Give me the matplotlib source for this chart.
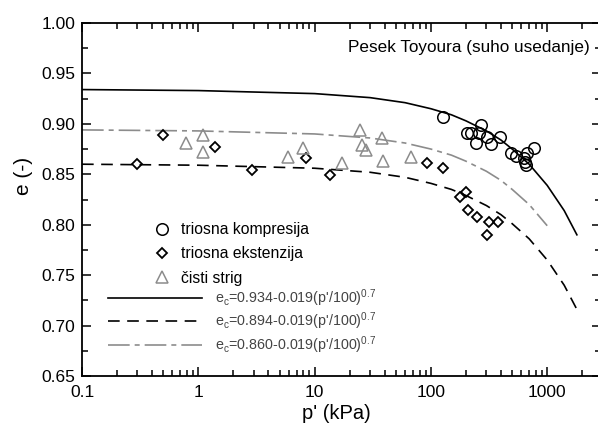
import matplotlib
matplotlib.use('Agg')
import matplotlib.pyplot as plt
from matplotlib.ticker import LogLocator, FuncFormatter, MultipleLocator

plt.rcParams['font.family'] = ['Liberation Sans', 'DejaVu Sans']
plt.rcParams['mathtext.fontset'] = 'custom'
plt.rcParams['mathtext.rm'] = 'Liberation Sans'

# --- data ---
# triosna kompresija (circles)
comp_p = [128, 271, 206, 223, 261, 305, 395, 246, 331, 491, 542, 635, 773, 673, 647, 660]
comp_e = [0.907, 0.899, 0.891, 0.891, 0.891, 0.887, 0.887, 0.881, 0.880, 0.871, 0.868,
          0.866, 0.876, 0.871, 0.862, 0.859]

# triosna ekstenzija (diamonds)
ext_p = [0.30, 0.50, 1.39, 2.9, 8.4, 13.5, 93, 126, 179, 202, 210, 251, 318, 380, 306]
ext_e = [0.860, 0.889, 0.877, 0.854, 0.866, 0.849, 0.861, 0.856, 0.827, 0.832, 0.815,
         0.808, 0.803, 0.803, 0.790]

# cisti strig (triangles)
shear_p = [0.78, 1.09, 1.09, 5.9, 7.9, 17.1, 24.8, 25.8, 27.9, 38.3, 39.1, 68]
shear_e = [0.881, 0.889, 0.872, 0.867, 0.876, 0.861, 0.894, 0.879, 0.874, 0.886, 0.863, 0.867]

# fitted curves (values of the drawn lines)
curve_p = [0.1, 1, 10, 30, 60, 100, 150, 200, 300, 400, 500, 700, 1000, 1400, 1800]
curve_solid = [0.934, 0.933, 0.930, 0.926, 0.921, 0.915, 0.909, 0.903, 0.893, 0.884,
               0.875, 0.860, 0.839, 0.814, 0.790]
curve_dashed = [0.860, 0.859, 0.856, 0.852, 0.847, 0.841, 0.835, 0.829, 0.819, 0.810,
                0.801, 0.786, 0.765, 0.740, 0.716]
grey_p = [0.1, 1, 10, 30, 60, 100, 150, 200, 300, 400, 500, 700, 1000]
curve_grey = [0.894, 0.893, 0.890, 0.886, 0.881, 0.875, 0.869, 0.863, 0.853, 0.844,
              0.835, 0.820, 0.799]

line_labels = [r"e$_\mathregular{c}$=0.934-0.019(p'/100)$^\mathregular{0.7}$",
               r"e$_\mathregular{c}$=0.894-0.019(p'/100)$^\mathregular{0.7}$",
               r"e$_\mathregular{c}$=0.860-0.019(p'/100)$^\mathregular{0.7}$"]

W, H = 598, 425
fig = plt.figure(figsize=(W / 100, H / 100), dpi=100)
ax = fig.add_axes([82 / W, 49 / H, 518.5 / W, 353 / H])

grey = '#8c8c8c'
l1, = ax.plot(curve_p, curve_solid, color='black', lw=1.2)
l2, = ax.plot(curve_p, curve_dashed, color='black', lw=1.2, dashes=(7, 4.5))
l3, = ax.plot(grey_p, curve_grey, color=grey, lw=1.2, dashes=(13, 3, 3, 3))

m1, = ax.plot(comp_p, comp_e, 'o', ms=8.3, mfc='none', mec='black', mew=1.1, ls='none')
m2, = ax.plot(ext_p, ext_e, 'D', ms=5.5, mfc='none', mec='black', mew=1.3, ls='none')
m3, = ax.plot(shear_p, shear_e, '^', ms=8, mfc='none', mec=grey, mew=1.1, ls='none')

ax.set_xscale('log')
ax.set_xlim(0.1, 10 ** (-1 + 518.5 / 116.3))
ax.set_ylim(0.65, 1.0)

ax.xaxis.set_major_locator(LogLocator(base=10, numticks=10))
ax.xaxis.set_minor_locator(LogLocator(base=10, subs=range(2, 10), numticks=20))
ax.xaxis.set_major_formatter(FuncFormatter(lambda v, pos: f'{v:g}'))
ax.yaxis.set_major_locator(MultipleLocator(0.05))
ax.yaxis.set_minor_locator(MultipleLocator(0.025))
ax.yaxis.set_major_formatter(FuncFormatter(lambda v, pos: f'{v:.2f}'))

ax.tick_params(which='both', direction='in', top=True, right=True, width=1.1)
ax.tick_params(which='major', length=6.5, labelsize=12.5)
ax.tick_params(axis='x', which='major', pad=6.5)
ax.tick_params(axis='y', which='major', pad=5)
ax.tick_params(which='minor', length=4.3)
for s in ax.spines.values():
    s.set_linewidth(1.3)

ax.set_xlabel("p' (kPa)", fontsize=14.5)
ax.set_ylabel("e (-)", fontsize=15)
ax.xaxis.set_label_coords((336 - 82) / 518.5, -(404 - 376) / 353)
ax.yaxis.set_label_coords((33 - 82) / 518.5, (376 - 176) / 353)

ax.text(0.979, 0.93, 'Pesek Toyoura (suho usedanje)', transform=ax.transAxes,
        ha='right', va='center', fontsize=12.3)

leg1 = ax.legend([m1, m2, m3], ['triosna kompresija', 'triosna ekstenzija', 'čisti strig'],
                 loc='upper left', bbox_to_anchor=(154 / W, 1 - 222 / H),
                 bbox_transform=fig.transFigure, frameon=False, fontsize=11.3,
                 handlelength=1.0, handletextpad=0.75, labelspacing=0.6,
                 borderpad=0, borderaxespad=0)
ax.add_artist(leg1)
leg2 = ax.legend([l1, l2, l3], line_labels,
                 loc='upper left', bbox_to_anchor=(108 / W, 1 - 287 / H),
                 bbox_transform=fig.transFigure, frameon=False, fontsize=10.3,
                 handlelength=6.6, handletextpad=0.9, labelspacing=0.16,
                 borderpad=0, borderaxespad=0)
for t in leg2.get_texts():
    t.set_color('#444444')

fig.savefig('out.png', dpi=100)
